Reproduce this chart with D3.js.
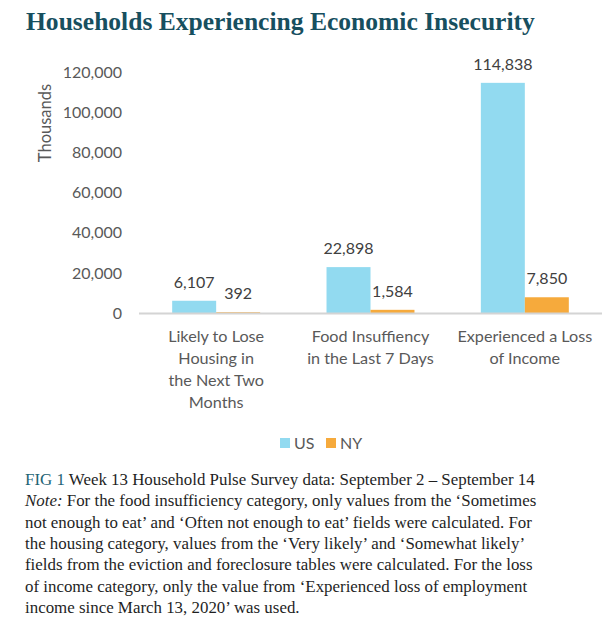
<!DOCTYPE html>
<html>
<head>
<meta charset="utf-8">
<script src="https://cdn.jsdelivr.net/npm/d3@7"></script>
<style>
  body { margin: 0; background: #fff; }
</style>
</head>
<body>
<div id="chart"></div>
<script>
// Chart data
var categories = [
  ["Likely to Lose", "Housing in", "the Next Two", "Months"],
  ["Food Insuffiency", "in the Last 7 Days"],
  ["Experienced a Loss", "of Income"]
];
var seriesNames = ["US", "NY"];
var usValues = [6107, 22898, 114838];
var nyValues = [392, 1584, 7850];
var yTicks = [0, 20000, 40000, 60000, 80000, 100000, 120000];
var captionLines = [
  "Week 13 Household Pulse Survey data: September 2 \u2013 September 14",
  "For the food insufficiency category, only values from the \u2018Sometimes",
  "not enough to eat\u2019 and \u2018Often not enough to eat\u2019 fields were calculated. For",
  "the housing category, values from the \u2018Very likely\u2019 and \u2018Somewhat likely\u2019",
  "fields from the eviction and foreclosure tables were calculated. For the loss",
  "of income category, only the value from \u2018Experienced loss of employment",
  "income since March 13, 2020\u2019 was used."
];

var colors = { US: "#92daf0", NY: "#f6aa3c" };
var labelFont = "Lato, 'Open Sans', sans-serif";
var serifFont = "'Liberation Serif', 'DejaVu Serif', serif";

var svgWidth = 612;
var svgHeight = 627;

var svg = d3.select("#chart")
  .append("svg")
  .attr("width", svgWidth)
  .attr("height", svgHeight);

// shrink/grow a text's font so it spans the wanted width
function fitWidth(sel, target, size) {
  var w = sel.node().getComputedTextLength();
  var s = size * target / w;
  sel.attr("font-size", s);
  return s;
}

// Title
var title = svg.append("text")
  .attr("x", 26)
  .attr("y", 30)
  .attr("font-family", serifFont)
  .attr("font-weight", "bold")
  .attr("font-size", 24)
  .attr("fill", "#174f5f")
  .text("Households Experiencing Economic Insecurity");
fitWidth(title, 509, 24);

// Scales
var x0 = d3.scaleBand()
  .domain(d3.range(categories.length))
  .range([139, 602])
  .paddingInner(0.43)
  .paddingOuter(0.215);

var x1 = d3.scaleBand()
  .domain(seriesNames)
  .range([0, x0.bandwidth()]);

var y = d3.scaleLinear()
  .domain([0, 120000])
  .range([313, 72.5]);

// Y axis labels (no line, no ticks)
var leftAxis = d3.axisLeft(y)
  .tickValues(yTicks)
  .tickSize(0)
  .tickPadding(0)
  .tickFormat(d3.format(","));

var yAxisG = svg.append("g")
  .attr("transform", "translate(122,0)")
  .call(leftAxis);
yAxisG.select(".domain").remove();
yAxisG.selectAll("text")
  .attr("font-family", labelFont)
  .attr("font-size", 16)
  .attr("fill", "#595959");

// Y axis title
svg.append("text")
  .attr("transform", "translate(51,123) rotate(-90)")
  .attr("text-anchor", "middle")
  .attr("font-family", labelFont)
  .attr("font-size", 16.5)
  .attr("fill", "#595959")
  .text("Thousands");

// Bars
var rows = categories.map(function(c, i) {
  return [
    { key: "US", value: usValues[i], cat: i },
    { key: "NY", value: nyValues[i], cat: i }
  ];
});

var groups = svg.selectAll(".group")
  .data(rows)
  .enter()
  .append("g")
  .attr("class", "group")
  .attr("transform", function(d, i) { return "translate(" + x0(i) + ",0)"; });

groups.selectAll("rect")
  .data(function(d) { return d; })
  .enter()
  .append("rect")
  .attr("x", function(d) { return x1(d.key); })
  .attr("y", function(d) { return y(d.value); })
  .attr("width", x1.bandwidth())
  .attr("height", function(d) { return y(0) - y(d.value); })
  .attr("fill", function(d) { return colors[d.key]; });

groups.selectAll(".val")
  .data(function(d) { return d; })
  .enter()
  .append("text")
  .attr("class", "val")
  .attr("x", function(d) { return x1(d.key) + x1.bandwidth() / 2; })
  .attr("y", function(d) { return y(d.value) - 13; })
  .attr("text-anchor", "middle")
  .attr("font-family", labelFont)
  .attr("font-size", 16)
  .attr("fill", "#404040")
  .text(function(d) { return d3.format(",")(d.value); });

// X axis line
svg.append("line")
  .attr("x1", 139)
  .attr("x2", 602)
  .attr("y1", y(0) + 0.5)
  .attr("y2", y(0) + 0.5)
  .attr("stroke", "#d4d4d4")
  .attr("stroke-width", 2);

// Category labels
categories.forEach(function(lines, i) {
  var t = svg.append("text")
    .attr("text-anchor", "middle")
    .attr("font-family", labelFont)
    .attr("font-size", 16.2)
    .attr("fill", "#595959");
  lines.forEach(function(line, j) {
    t.append("tspan")
      .attr("x", x0(i) + x0.bandwidth() / 2)
      .attr("y", 342 + j * 22)
      .text(line);
  });
});

// Legend
var legendX = [280, 326];
seriesNames.forEach(function(name, i) {
  svg.append("rect")
    .attr("x", legendX[i])
    .attr("y", 438)
    .attr("width", 10)
    .attr("height", 10)
    .attr("fill", colors[name]);
  svg.append("text")
    .attr("x", legendX[i] + 14)
    .attr("y", 448.5)
    .attr("font-family", labelFont)
    .attr("font-size", 16)
    .attr("fill", "#595959")
    .text(name);
});

// Caption
var cap = svg.append("text")
  .attr("font-family", serifFont)
  .attr("font-size", 16)
  .attr("fill", "#1f1f1f");

captionLines.forEach(function(line, j) {
  var ts = cap.append("tspan")
    .attr("x", 25)
    .attr("y", 485 + j * 21.3);
  if (j === 0) {
    ts.append("tspan").attr("fill", "#1d6475").text("FIG 1 ");
  }
  if (j === 1) {
    ts.append("tspan").attr("font-style", "italic").text("Note:");
    ts.append("tspan").text(" ");
  }
  ts.append("tspan").text(line);
});

// size the caption so its first line spans like the original
var firstLine = cap.select("tspan").node();
var lineW = firstLine.getComputedTextLength();
cap.attr("font-size", 16 * 510 / lineW);
</script>
</body>
</html>
